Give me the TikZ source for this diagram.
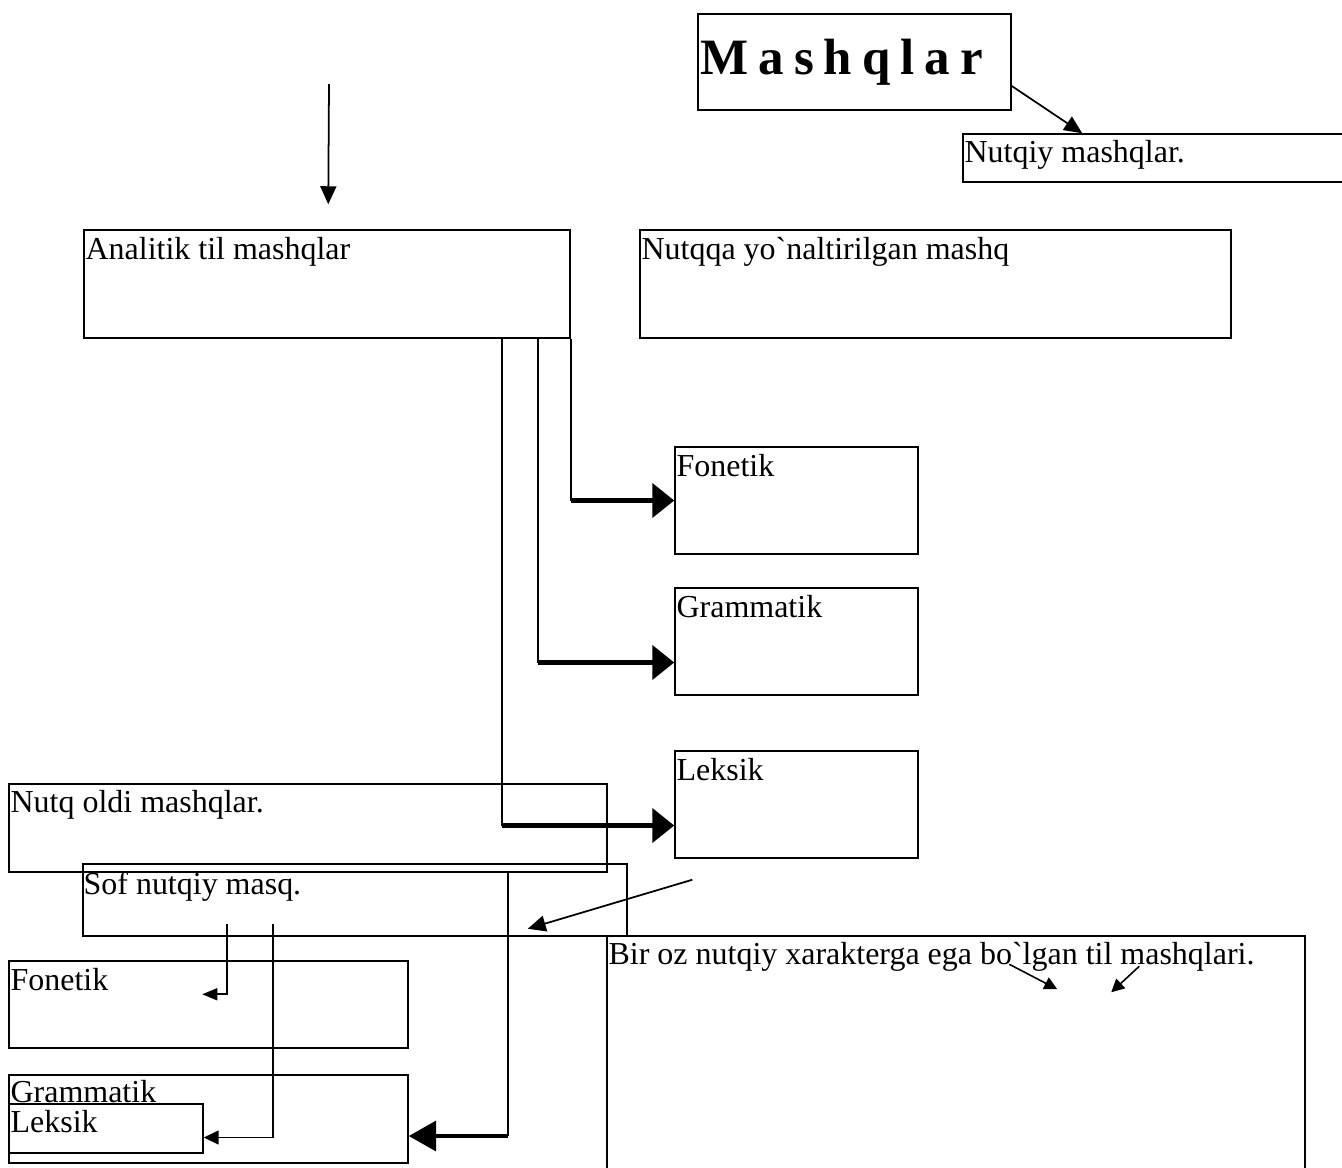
\documentclass[tikz,border=0pt]{standalone}
\usepackage{fontspec}
\setmainfont{Liberation Serif}
\usepackage{tikz}
\usetikzlibrary{arrows.meta,fit,calc}

\newcommand{\gap}{\hspace{0.2cm}}

\tikzset{
	box/.style={draw,line width=0.85pt,inner sep=0pt},
	txt/.style={anchor=base west,inner sep=0pt,font=\fontsize{18.2}{20}\selectfont},
	line/.style={line width=0.9pt},
	arr/.style={line width=1pt,-{Triangle[length=0.36cm,width=0.32cm]}},
	thickarr/.style={line width=2.5pt,-{Triangle[length=0.44cm,width=0.68cm]}}
}

\begin{document}
\begin{tikzpicture}[x={(0.02cm,0)},y={(0,-0.02cm)}]
		\useasboundingbox (0,0) rectangle (1342,1167);
		% boxes
		\node[box,fit={(698,14) (1011,110)}] (mashqlar) {};
		\node[box,fit={(963,134) (1350,182)}] (nutqiy) {};
		\node[box,fit={(84,230) (570,338)}] (analitik) {};
		\node[box,fit={(640,230) (1231,338)}] (nutqqa) {};
		\node[box,fit={(675,447) (918,554)}] (fonR) {};
		\node[box,fit={(675,588) (918,695)}] (gramR) {};
		\node[box,fit={(675,751) (918,858)}] (leksR) {};
		\node[box,fit={(9,784) (607,872)}] (nutqoldi) {};
		\node[box,fit={(83,864) (627,936)}] (sof) {};
		\node[box,fit={(607,936) (1305,1175)}] (birOz) {};
		\node[box,fit={(9,961) (408,1048)}] (fonL) {};
		\node[box,fit={(9,1075) (408,1163)}] (gramL) {};
		\node[box,fit={(9,1104) (203,1153)}] (leksL) {};
		% texts
		\node[anchor=base west,inner sep=0pt,font=\fontsize{29}{32}\selectfont\bfseries] (mashqlarT) at ([shift={(3,61)}]mashqlar.north west) {M\gap a\gap s\gap h\gap q\gap l\gap a\gap r};
		\node[txt] (nutqiyT) at ([shift={(2,29)}]nutqiy.north west) {Nutqiy mashqlar.};
		\node[txt] (analitikT) at ([shift={(2,30)}]analitik.north west) {Analitik til mashqlar};
		\node[txt] (nutqqaT) at ([shift={(2,30)}]nutqqa.north west) {Nutqqa yo\textasciigrave{}naltirilgan mashq};
		\node[txt] (fonRT) at ([shift={(2,30)}]fonR.north west) {Fonetik};
		\node[txt] (gramRT) at ([shift={(2,30)}]gramR.north west) {Grammatik};
		\node[txt] (leksRT) at ([shift={(2,30)}]leksR.north west) {Leksik};
		\node[txt] (nutqoldiT) at ([shift={(2,29)}]nutqoldi.north west) {Nutq oldi mashqlar.};
		\node[txt] (sofT) at ([shift={(1,31)}]sof.north west) {Sof nutqiy masq.};
		\node[txt] (birOzT) at ([shift={(2,29)}]birOz.north west) {Bir oz nutqiy xarakterga ega bo\textasciigrave{}lgan til mashqlari.};
		\node[txt] (fonLT) at ([shift={(2,30)}]fonL.north west) {Fonetik};
		\node[txt] (gramLT) at ([shift={(2,28)}]gramL.north west) {Grammatik};
		\node[txt] (leksLT) at ([shift={(2,29)}]leksL.north west) {Leksik};
		% free ends
		\coordinate (t1) at (329,84);
		\coordinate (t2) at ([shift={(245,-25)}]analitik.north west);
		\coordinate (g1) at ([shift={(-33,0)}]analitik.south east);
		\coordinate (g2) at ([shift={(0,21)}]gramR.west);
		\coordinate (l1) at ([shift={(-69,0)}]analitik.south east);
		\coordinate (l2) at ([shift={(0,21)}]leksR.west);
		\coordinate (s1) at ([shift={(18,21)}]leksR.south west);
		\coordinate (s2) at ([shift={(-100,-8)}]sof.south east);
		\coordinate (v1) at ([shift={(500,0)}]nutqoldi.south west);
		\coordinate (v2) at ([shift={(0,17)}]gramL.east);
		\coordinate (f1) at ([shift={(145,-13)}]sof.south west);
		\coordinate (f2) at ([shift={(194,34)}]fonL.north west);
		\coordinate (k1) at ([shift={(191,-13)}]sof.south west);
		\coordinate (k2) at ([shift={(0,9)}]leksL.east);
		\coordinate (b1) at ([shift={(403,29)}]birOz.north west);
		\coordinate (b2) at ([shift={(451,54)}]birOz.north west);
		\coordinate (b3) at ([shift={(533,31)}]birOz.north west);
		\coordinate (b4) at ([shift={(505,57)}]birOz.north west);
		% connectors
		\draw[arr] ([shift={(0,24)}]mashqlar.east) -- ([shift={(120,0)}]nutqiy.north west);
		\draw[arr] (t1) -- (t2);
		\draw[line] (analitik.south east) -- (analitik.south east |- fonR.west);
		\draw[thickarr] (analitik.south east |- fonR.west) -- (fonR.west);
		\draw[line] (g1) -- (g1 |- g2);
		\draw[thickarr] (g1 |- g2) -- (g2);
		\draw[line] (l1) -- (l1 |- l2);
		\draw[thickarr] (l1 |- l2) -- (l2);
		\draw[arr] (s1) -- (s2);
		\draw[line] (v1) -- (v1 |- v2);
		\draw[line width=2.2pt,-{Triangle[length=0.55cm,width=0.6cm]}] (v1 |- v2) -- (v2);
		\draw[line,-{Triangle[length=0.3cm,width=0.24cm]}] (f1) |- (f2);
		\draw[line,-{Triangle[length=0.3cm,width=0.28cm]}] (k1) |- (k2);
		\draw[line,-{Triangle[length=0.26cm,width=0.26cm]}] (b1) -- (b2);
		\draw[line,-{Triangle[length=0.26cm,width=0.26cm]}] (b3) -- (b4);
	\end{tikzpicture}
\end{document}
